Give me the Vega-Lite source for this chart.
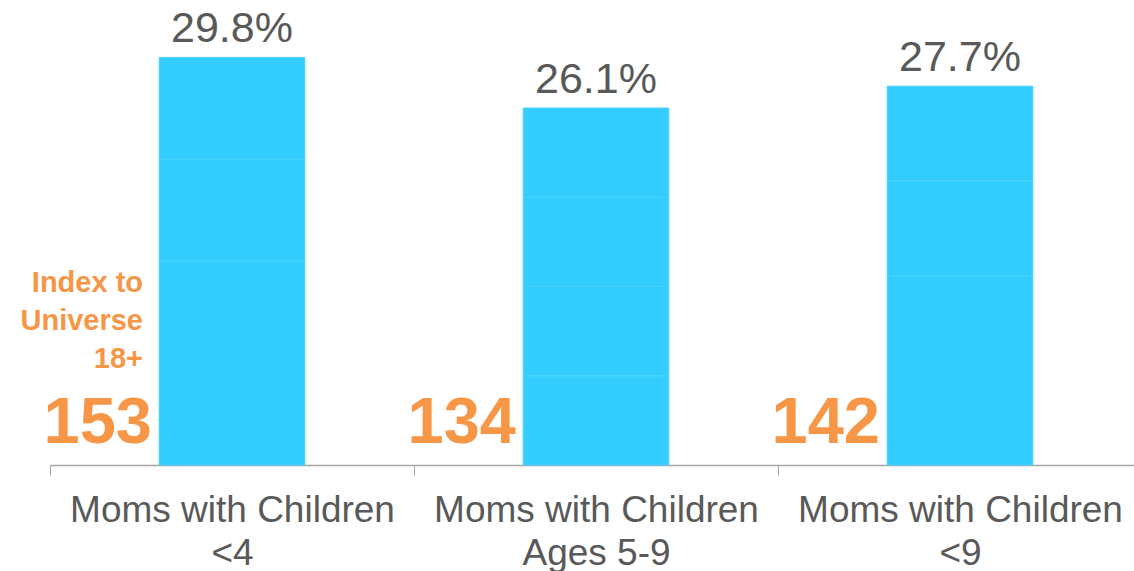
{
  "$schema": "https://vega.github.io/schema/vega-lite/v6.json",
  "width": 1092,
  "height": 465,
  "autosize": "none",
  "padding": {"left": 50, "top": 0, "right": 0, "bottom": 106},
  "background": "white",
  "config": {
    "view": {"stroke": null},
    "font": "Liberation Sans"
  },
  "datasets": {
    "totals": [
      {"cat": "Moms with Children|<4", "pct": 29.8, "index": 153},
      {"cat": "Moms with Children|Ages 5-9", "pct": 26.1, "index": 134},
      {"cat": "Moms with Children|<9", "pct": 27.7, "index": 142}
    ],
    "segments": [
      {"cat": "Moms with Children|<4", "seg": 1, "part": 14.9},
      {"cat": "Moms with Children|<4", "seg": 2, "part": 7.45},
      {"cat": "Moms with Children|<4", "seg": 3, "part": 7.45},
      {"cat": "Moms with Children|Ages 5-9", "seg": 1, "part": 6.525},
      {"cat": "Moms with Children|Ages 5-9", "seg": 2, "part": 6.525},
      {"cat": "Moms with Children|Ages 5-9", "seg": 3, "part": 6.525},
      {"cat": "Moms with Children|Ages 5-9", "seg": 4, "part": 6.525},
      {"cat": "Moms with Children|<9", "seg": 1, "part": 13.85},
      {"cat": "Moms with Children|<9", "seg": 2, "part": 6.925},
      {"cat": "Moms with Children|<9", "seg": 3, "part": 6.925}
    ],
    "note": [
      {"cat": "Moms with Children|<4", "label": ["Index to", "Universe", "18+"]}
    ]
  },
  "encoding": {
    "x": {
      "field": "cat",
      "type": "nominal",
      "sort": null,
      "scale": {"paddingInner": 0, "paddingOuter": 0},
      "axis": {
        "title": null,
        "labelAngle": 0,
        "labelExpr": "split(datum.label, '|')",
        "labelFont": "Liberation Sans",
        "labelFontSize": 37,
        "labelColor": "#595959",
        "labelLineHeight": 43,
        "labelBaseline": "top",
        "labelPadding": 17,
        "labelLimit": 0,
        "tickBand": "extent",
        "tickColor": "#A6A6A6",
        "tickSize": 10,
        "domainColor": "#A6A6A6",
        "domainWidth": 1.5,
        "grid": false
      }
    }
  },
  "layer": [
    {
      "data": {"name": "segments"},
      "mark": {"type": "bar", "color": "#33CCFF", "stroke": "#48D2FF", "strokeWidth": 1, "width": {"band": 0.4}},
      "encoding": {
        "y": {
          "field": "part",
          "type": "quantitative",
          "stack": "zero",
          "scale": {"domain": [0, 34], "nice": false, "zero": true},
          "axis": null
        },
        "order": {"field": "seg", "type": "quantitative"}
      }
    },
    {
      "data": {"name": "totals"},
      "transform": [{"calculate": "format(datum.pct, '.1f') + '%'", "as": "lbl"}],
      "mark": {"type": "text", "font": "Liberation Sans", "fontSize": 43, "color": "#595959", "baseline": "alphabetic", "dy": -15},
      "encoding": {
        "y": {"field": "pct", "type": "quantitative"},
        "text": {"field": "lbl"}
      }
    },
    {
      "data": {"name": "totals"},
      "mark": {"type": "text", "font": "Liberation Sans", "fontSize": 65, "fontWeight": "bold", "color": "#F79646", "align": "right", "baseline": "alphabetic", "dx": -80, "dy": -22},
      "encoding": {
        "y": {"datum": 0},
        "text": {"field": "index", "type": "quantitative"}
      }
    },
    {
      "data": {"name": "note"},
      "mark": {"type": "text", "font": "Liberation Sans", "fontSize": 29, "fontWeight": "bold", "color": "#F79646", "align": "right", "baseline": "alphabetic", "lineHeight": 38, "dx": -89, "dy": -173},
      "encoding": {
        "y": {"datum": 0},
        "text": {"field": "label"}
      }
    }
  ]
}
